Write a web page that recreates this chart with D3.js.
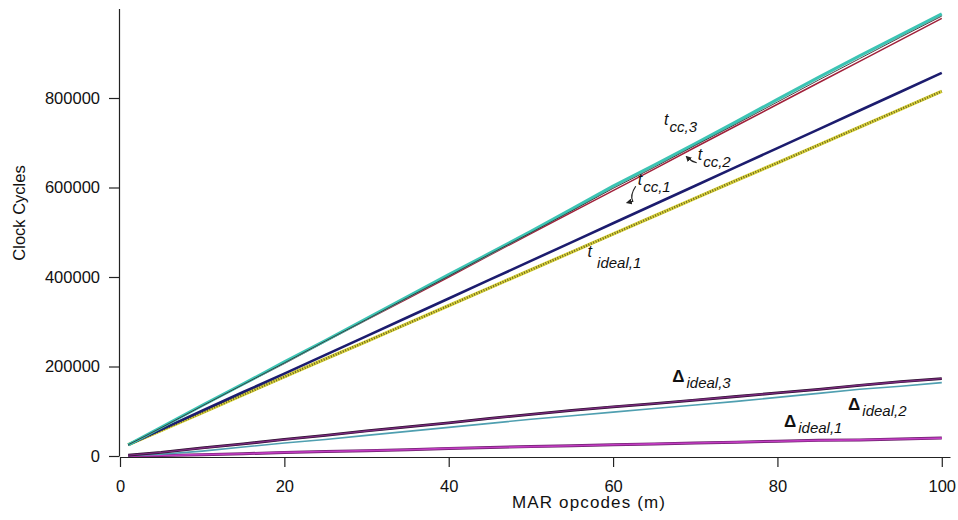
<html>
<head>
  <meta charset="UTF-8">
  <title>Clock Cycles vs MAR opcodes</title>
  <script src="https://d3js.org/d3.v7.min.js"></script>
  <style>
    body { margin: 0; background: white; }
    text { font-family: "Liberation Sans", Arial, sans-serif; fill: #111; }
    .lbl { font-style: italic; }
  </style>
</head>
<body>
<svg id="chart"></svg>
<script>
  let width = 958;
  let height = 520;

  let mGrid = [1, 5, 10, 15, 20, 25, 30, 35, 40, 45, 50, 55, 60, 65, 70, 75, 80, 85, 90, 95, 100];

  // clock cycles, in thousands
  let tcc3   = [25, 64, 113, 161, 210, 258, 307, 356, 405, 453, 502, 552, 603, 650, 698, 747, 797, 846, 894, 941, 988];
  let dark3  = [25, 63, 112, 160, 208, 257, 305, 354, 402, 451, 499, 548, 598, 645, 694, 742, 791, 840, 888, 936, 983];
  let tcc2   = [25, 63, 112, 160, 207, 256, 304, 352, 400, 449, 497, 545, 593, 641, 690, 738, 786, 834, 882, 930, 978];
  let tcc1   = [25, 59, 101, 143, 184, 226, 268, 310, 352, 394, 436, 478, 520, 562, 604, 646, 688, 730, 772, 814, 856];
  let tideal1 = [25, 57, 97, 137, 177, 217, 256, 296, 336, 376, 416, 456, 496, 536, 576, 616, 655, 695, 735, 775, 815];
  let dIdeal3 = [2, 8, 18, 27, 37, 46, 56, 65, 74, 84, 93, 102, 110, 117, 125, 133, 141, 149, 158, 166, 173];
  let dIdeal2 = [1, 4, 11, 20, 29, 37, 46, 55, 64, 73, 82, 90, 98, 106, 114, 122, 131, 140, 149, 156, 164];
  let dIdeal1 = [0, 1, 3, 5, 8, 10, 12, 14, 17, 19, 21, 23, 25, 27, 29, 31, 33, 35, 36, 38, 40];

  let xTicks = [0, 20, 40, 60, 80, 100];
  let yTicks = [0, 200000, 400000, 600000, 800000];

  let svg = d3.select("#chart").attr("width", width).attr("height", height);

  let x = d3.scaleLinear().domain([0, 101]).range([120, 950]);
  let y = d3.scaleLinear().domain([0, 1000000]).range([456, 8.5]);

  let line = d3.line()
               .x((d, i) => x(mGrid[i]))
               .y(d => y(d * 1000));

  function drawLine(vals, color, w, dash) {
      let p = svg.append("path")
                 .datum(vals)
                 .attr("d", line)
                 .attr("fill", "none")
                 .attr("stroke", color)
                 .attr("stroke-width", w)
                 .attr("stroke-linejoin", "round");
      if (dash) p.attr("stroke-dasharray", dash);
      return p;
  }

  // lower (delta) curves
  drawLine(dIdeal1, "#6a1f6a", 3);
  drawLine(dIdeal1, "#c23cc2", 1.6);
  drawLine(dIdeal2, "#4f9fb0", 1.6);
  drawLine(dIdeal3, "#2e1030", 2.8);
  drawLine(dIdeal3, "#7a2a7e", 1.4);

  // upper (total) curves
  drawLine(tideal1, "#d9d33a", 3.4);
  drawLine(tideal1, "#6b6420", 2.4, "1 1.6");
  drawLine(tcc1, "#1c1c6e", 2.6);
  drawLine(tcc2, "#a0203a", 1.5);
  drawLine(tcc3, "#3cc4b4", 3.2);
  drawLine(dark3, "#333", 0.9);

  // axes
  let xAxis = d3.axisBottom(x).tickValues(xTicks).tickSize(10).tickSizeOuter(0).tickPadding(13);
  let yAxis = d3.axisLeft(y).tickValues(yTicks).tickSize(10).tickSizeOuter(0).tickPadding(9)
                .tickFormat(d3.format("d"));

  let gx = svg.append("g").attr("transform", "translate(0,457)").call(xAxis);
  let gy = svg.append("g").attr("transform", "translate(119,0)").call(yAxis);

  [gx, gy].forEach(g => {
      g.selectAll("path, line").attr("stroke", "#222").attr("stroke-width", 1.2);
      g.selectAll("text").attr("font-size", 16.5).attr("fill", "#111")
       .attr("font-family", "'Liberation Sans', Arial, sans-serif");
  });

  svg.append("text")
     .attr("x", 512).attr("y", 508)
     .attr("font-size", 17)
     .attr("textLength", 153)
     .text("MAR opcodes (m)");

  svg.append("text")
     .attr("transform", "translate(25,213) rotate(-90)")
     .attr("text-anchor", "middle")
     .attr("font-size", 16.5)
     .text("Clock Cycles");

  // curve labels, anchored in data coordinates
  let labelGlyphs = ["t", "t", "t", "t", "\u0394", "\u0394", "\u0394"];
  let labelSubs   = ["cc,3", "cc,2", "cc,1", "ideal,1", "ideal,3", "ideal,2", "ideal,1"];
  let labelM      = [66.2, 70.3, 63.0, 56.9, 67.2, 88.6, 80.8];
  let labelK      = [740, 662, 605, 445, 165, 103, 64];

  labelGlyphs.forEach((g, i) => {
      let isDelta = g === "\u0394";
      let t = svg.append("text").attr("class", "lbl")
                 .attr("x", x(labelM[i])).attr("y", y(labelK[i] * 1000));
      t.append("tspan")
       .attr("font-size", isDelta ? 17 : 16)
       .attr("font-weight", isDelta ? "bold" : "normal")
       .attr("font-style", isDelta ? "normal" : "italic")
       .text(g);
      t.append("tspan")
       .attr("font-size", 15)
       .attr("dx", isDelta ? 2 : (labelSubs[i] === "ideal,1" ? 5 : 1))
       .attr("dy", isDelta ? 6 : (labelSubs[i] === "ideal,1" ? 11 : 7))
       .text(labelSubs[i]);
  });

  // small pointer arrows for t_cc,2 and t_cc,1
  svg.append("defs").append("marker")
     .attr("id", "ah").attr("viewBox", "0 0 10 10")
     .attr("refX", 5).attr("refY", 5)
     .attr("markerWidth", 5).attr("markerHeight", 5)
     .attr("orient", "auto-start-reverse")
     .append("path").attr("d", "M0,0 L10,5 L0,10 z").attr("fill", "#222");

  let a2x = x(labelM[1]), a2y = y(labelK[1] * 1000);
  svg.append("path")
     .attr("d", `M${a2x - 1},${a2y + 3} Q${a2x - 6},${a2y + 2} ${a2x - 10},${a2y - 2}`)
     .attr("fill", "none").attr("stroke", "#222").attr("stroke-width", 1.2)
     .attr("marker-end", "url(#ah)");

  let a1x = x(labelM[2]) - 3, a1y = y(labelK[2] * 1000) + 2;
  svg.append("path")
     .attr("d", `M${a1x + 1},${a1y - 1} Q${a1x - 5},${a1y + 8} ${a1x - 2},${a1y + 14} L${a1x - 6},${a1y + 15}`)
     .attr("fill", "none").attr("stroke", "#222").attr("stroke-width", 1.2)
     .attr("marker-end", "url(#ah)");
</script>
</body>
</html>
